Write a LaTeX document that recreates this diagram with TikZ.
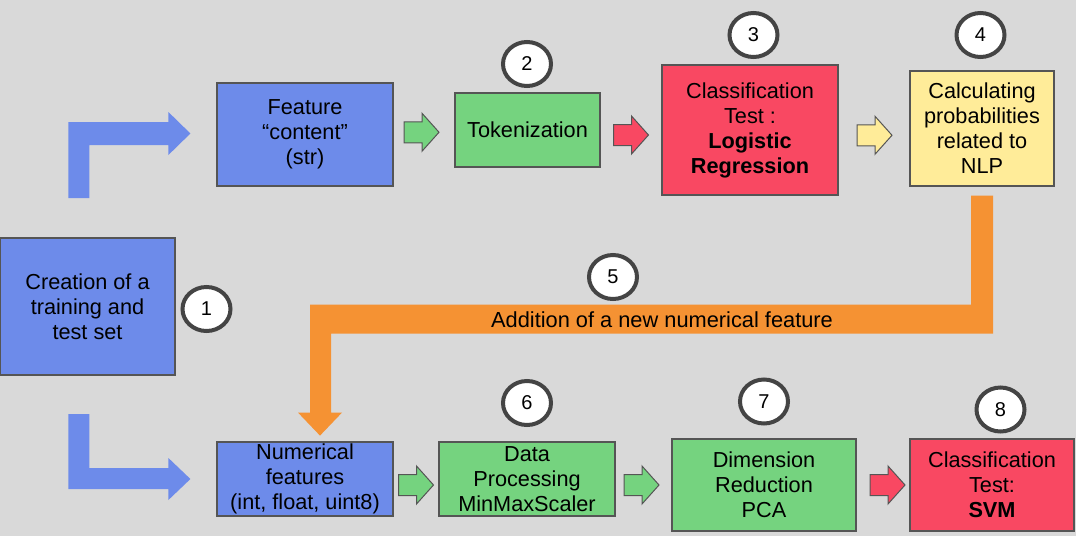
\documentclass[tikz,border=0pt]{standalone}
\usepackage{fontspec}
\setmainfont{Liberation Sans}
\usetikzlibrary{shapes.geometric, calc, positioning}

\definecolor{bgcol}{HTML}{D9D9D9}
\definecolor{bluebox}{HTML}{6D8BEA}
\definecolor{greenbox}{HTML}{75D37F}
\definecolor{redbox}{HTML}{F94862}
\definecolor{yellowbox}{HTML}{FFEC99}
\definecolor{orangebar}{HTML}{F59233}
\definecolor{edgecol}{HTML}{555555}
\definecolor{ringcol}{HTML}{444444}

\tikzset{
	box/.style={draw=edgecol, line width=1.2pt, align=center, inner sep=0pt, font=\fontsize{21.7}{25}\selectfont},
	stepnum/.style={ellipse, draw=ringcol, line width=4pt, fill=white, minimum width=48pt, minimum height=44pt, inner sep=0pt, font=\fontsize{20}{24}\selectfont},
	blockarr/.pic={\path[pic actions] (-17.5,-10.5) -- (0.5,-10.5) -- (0.5,-19) -- (17.5,0) -- (0.5,19) -- (0.5,10.5) -- (-17.5,10.5) -- cycle;}
}

\begin{document}
\begin{tikzpicture}[x=1pt, y=-1pt]
	\fill [bgcol] (0,0) rectangle (1076,536);
	\useasboundingbox (0,0) rectangle (1076,536);

	% boxes
	\node [box, fill=bluebox, minimum width=175pt, minimum height=137pt] (train) at (87.5,306.5) {Creation of a\\training and\\test set};
	\node [box, fill=bluebox, minimum width=176pt, minimum height=103pt] (feat) at (305,134.5) {Feature\\``content''\\(str)};
	\node [box, fill=greenbox, minimum width=145pt, minimum height=74pt] (tok) at (527.5,130) {Tokenization};
	\node [box, fill=redbox, minimum width=176pt, minimum height=130pt] (logreg) at (750,130) {Classification\\Test :\\\textbf{Logistic}\\\textbf{Regression}};
	\node [box, fill=yellowbox, minimum width=144pt, minimum height=115pt] (prob) at (982,128.5) {Calculating\\probabilities\\related to\\NLP};
	\node [box, fill=bluebox, minimum width=176pt, minimum height=74pt] (num) at (305,479) {Numerical\\features\\(int, float, uint8)};
	\node [box, fill=greenbox, minimum width=176pt, minimum height=74pt] (scaler) at (527,479) {Data\\Processing\\MinMaxScaler};
	\node [box, fill=greenbox, minimum width=184pt, minimum height=92pt] (pca) at (764,485) {Dimension\\Reduction\\PCA};
	\node [box, fill=redbox, minimum width=164pt, minimum height=92pt] (svm) at (992,485) {Classification\\Test:\\\textbf{SVM}};

	% step numbers
	\node [stepnum] (s1) at (206.5,309) {1};
	\node [stepnum] (s2) at (527,64) {2};
	\node [stepnum] (s3) at (753.5,35) {3};
	\node [stepnum] (s4) at (980.5,35) {4};
	\node [stepnum] (s5) at (613,277) {5};
	\node [stepnum] (s6) at (527,403) {6};
	\node [stepnum] (s7) at (764,401.5) {7};
	\node [stepnum] (s8) at (1000.5,409.5) {8};

	% bent arrows from the split
	\fill [bluebox] ($(feat.west)+(-26,-1)$) -- ++(-22,21.5) -- ++(0,-10) -- ++(-79,0) -- ++(0,53) -- ++(-21,0) -- ++(0,-76) -- ++(100,0) -- ++(0,-10) -- cycle;
	\fill [bluebox] ($(num.west)+(-26,0)$) -- ++(-22,-21) -- ++(0,10) -- ++(-79,0) -- ++(0,-54) -- ++(-21,0) -- ++(0,75) -- ++(100,0) -- ++(0,11) -- cycle;

	% new feature back to the numerical branch
	\fill [orangebar] ($(prob.south)+(-11,9)$) -- ++(22,0) -- ++(0,138) -- ++(-662,0) -- ++(0,79) -- ++(11,0) -- ++(-22,23) -- ++(-22,-23) -- ++(12,0) -- ++(0,-108) -- ++(661,0) -- cycle;
	\node [font=\fontsize{21.8}{25}\selectfont, inner sep=0pt] (newfeat) at (662,320) {Addition of a new numerical feature};

	% small arrows
	\pic [fill=greenbox, draw=edgecol, line width=1pt] at ($(feat.east)!0.5!(tok.west)+(-2.5,0)$) {blockarr};
	\pic [fill=redbox, draw=edgecol, line width=1pt] at ($(tok.east)!0.5!(logreg.west)+(0,5)$) {blockarr};
	\pic [fill=yellowbox, draw=edgecol, line width=1pt] at ($(logreg.east)!0.5!(prob.west)+(0.5,6)$) {blockarr};
	\pic [fill=greenbox, draw=edgecol, line width=1pt] at ($(num.east)!0.5!(scaler.west)+(0,6)$) {blockarr};
	\pic [fill=greenbox, draw=edgecol, line width=1pt] at ($(scaler.east)!0.5!(pca.west)+(-2,3)$) {blockarr};
	\pic [fill=redbox, draw=edgecol, line width=1pt] at ($(pca.east)!0.5!(svm.west)+(4.5,0)$) {blockarr};
\end{tikzpicture}
\end{document}
